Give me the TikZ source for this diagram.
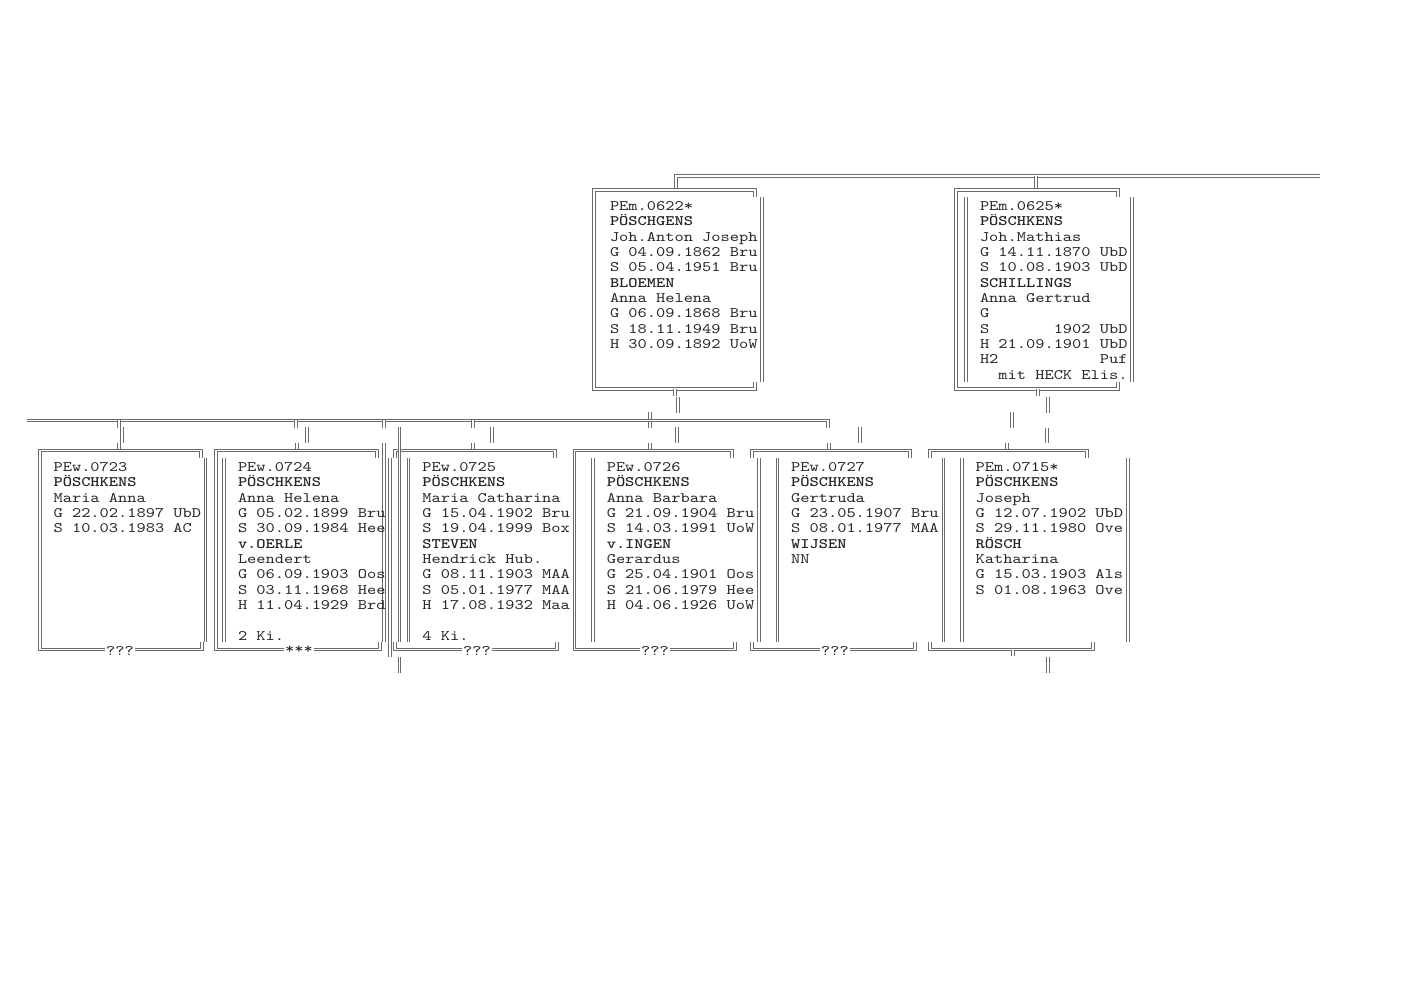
\documentclass[tikz,border=0pt]{standalone}
\usepackage{fontspec}
\newfontfamily\cmono{lmmono10-regular.otf}[FakeStretch=1.211,BoldFont=lmmonolt10-bold.otf]
\definecolor{lc}{gray}{0.42}
\definecolor{tc}{gray}{0.15}
\tikzset{
  dl/.style={draw=lc, line width=0.6pt, double=white, double distance=0.95pt},
  txt/.style={anchor=base west, inner sep=0pt, outer sep=0pt, text=tc,
    font=\cmono\fontsize{8.7}{9.21}\selectfont\frenchspacing},
  lab/.style={anchor=base, inner xsep=0.6pt, inner ysep=1.4pt, fill=white, text=tc,
    font=\cmono\fontsize{8.7}{9.21}\selectfont},
}
\newcommand\boxtext[4]{%
  \foreach \t [count=\k from 0] in {#4} {
    \node[txt] (#1-\k) at ({#2},{#3+15.35*\k}) {\t};
  }}
% frame with short stubs only: xl, xr top, xr bottom
\newcommand\childframe[3]{%
  \draw[dl] (#2,458) -- (#2,450.7) -- (#1,450.7) -- (#1,458);
  \draw[dl] (#1,642) -- (#1,649.5) -- (#3,649.5) -- (#3,642);}
% frame with full left side
\newcommand\childframefull[3]{%
  \draw[dl] (#2,458) -- (#2,450.7) -- (#1,450.7) -- (#1,649.5) -- (#3,649.5) -- (#3,642);}
\newcommand\vl[3]{\draw[dl] (#1,#2) -- (#1,#3);}
\begin{document}
\begin{tikzpicture}[x=0.6pt,y=-0.6pt]
\useasboundingbox (0,0) rectangle (1413,1000);
\fill[white] (0,0) rectangle (1413,1000);

% ---------- top generation ----------
\draw[dl] (676,190) -- (676,176) -- (1320,176);
\vl{1036}{176}{190}
\draw[dl] (755,197) -- (755,190) -- (594,190) -- (594,389) -- (755,389) -- (755,382);
\vl{762}{197}{382}
\draw[dl] (1118,197) -- (1118,190) -- (956,190) -- (956,389) -- (1118,389) -- (1118,382);
\vl{966}{197}{382}
\vl{1132}{197}{382}

\boxtext{p0622}{610}{210.5}{PEm.0622*, \textbf{PÖSCHGENS}, Joh.Anton Joseph, G 04.09.1862 Bru, S 05.04.1951 Bru, \textbf{BLOEMEN}, Anna Helena, G 06.09.1868 Bru, S 18.11.1949 Bru, H 30.09.1892 UoW}
\boxtext{p0625}{980}{210.5}{PEm.0625*, \textbf{PÖSCHKENS}, Joh.Mathias, G 14.11.1870 UbD, S 10.08.1903 UbD, \textbf{SCHILLINGS}, Anna Gertrud, G, S\phantom{ 10.08.}1902 UbD, H 21.09.1901 UbD, H2\phantom{21.09.1901 }Puf, \phantom{mi}mit HECK Elis.}

% ---------- connectors between generations ----------
\vl{675}{389}{396}
\vl{678}{397}{413}
\vl{650}{412}{428}
\vl{677}{427}{443}
\vl{650}{443}{451}
\vl{1038}{389}{396}
\vl{1048}{397}{413}
\vl{1012}{412}{428}
\vl{1047}{428}{443}
\vl{1007}{443}{451}

\draw[dl] (27,420.5) -- (828,420.5) -- (828,428);
\foreach \x in {119,296,384,473} {\vl{\x}{420.5}{428}}
\foreach \x in {122,307,399.4,492,860} {\vl{\x}{427}{443}}
\foreach \x in {119,297,473,829} {\vl{\x}{443}{451}}

% ---------- children ----------
\childframefull{39.8}{201}{202}
\childframefull{216}{377}{380}
\childframe{395}{555}{557}
\childframefull{574.5}{732}{735}
\childframe{752}{910}{915}
\childframe{930}{1087}{1093}
% inner left lines
\foreach \x in {224.2,408.6,593,777.4,961.8} {\vl{\x}{458}{642}}
% right lines
\foreach \x in {205.7,758.9,943.3,1127.7} {\vl{\x}{458}{642}}
\vl{390.1}{458}{657}
\vl{384}{443}{642}
\vl{399.4}{443}{642}
\vl{399.4}{657}{673}
\vl{1013}{649.5}{656}
\vl{1048}{657}{673}

\boxtext{c0723}{53.6}{471.5}{PEw.0723, \textbf{PÖSCHKENS}, Maria Anna, G 22.02.1897 UbD, S 10.03.1983 AC}
\boxtext{c0724}{238.0}{471.5}{PEw.0724, \textbf{PÖSCHKENS}, Anna Helena, G 05.02.1899 Bru, S 30.09.1984 Hee, \textbf{v.OERLE}, Leendert, G 06.09.1903 Oos, S 03.11.1968 Hee, H 11.04.1929 Brd, {}, 2 Ki.}
\boxtext{c0725}{422.4}{471.5}{PEw.0725, \textbf{PÖSCHKENS}, Maria Catharina, G 15.04.1902 Bru, S 19.04.1999 Box, \textbf{STEVEN}, Hendrick Hub., G 08.11.1903 MAA, S 05.01.1977 MAA, H 17.08.1932 Maa, {}, 4 Ki.}
\boxtext{c0726}{606.8}{471.5}{PEw.0726, \textbf{PÖSCHKENS}, Anna Barbara, G 21.09.1904 Bru, S 14.03.1991 UoW, \textbf{v.INGEN}, Gerardus, G 25.04.1901 Oos, S 21.06.1979 Hee, H 04.06.1926 UoW}
\boxtext{c0727}{791.2}{471.5}{PEw.0727, \textbf{PÖSCHKENS}, Gertruda, G 23.05.1907 Bru, S 08.01.1977 MAA, \textbf{WIJSEN}, NN}
\boxtext{c0715}{975.6}{471.5}{PEm.0715*, \textbf{PÖSCHKENS}, Joseph, G 12.07.1902 UbD, S 29.11.1980 Ove, \textbf{RÖSCH}, Katharina, G 15.03.1903 Als, S 01.08.1963 Ove}

\node[lab] (l0723) at (120,655.7) {???};
\node[lab] (l0724) at (299,653.5) {***};
\node[lab] (l0725) at (477,655.7) {???};
\node[lab] (l0726) at (655,655.7) {???};
\node[lab] (l0727) at (835,655.7) {???};
\end{tikzpicture}
\end{document}
